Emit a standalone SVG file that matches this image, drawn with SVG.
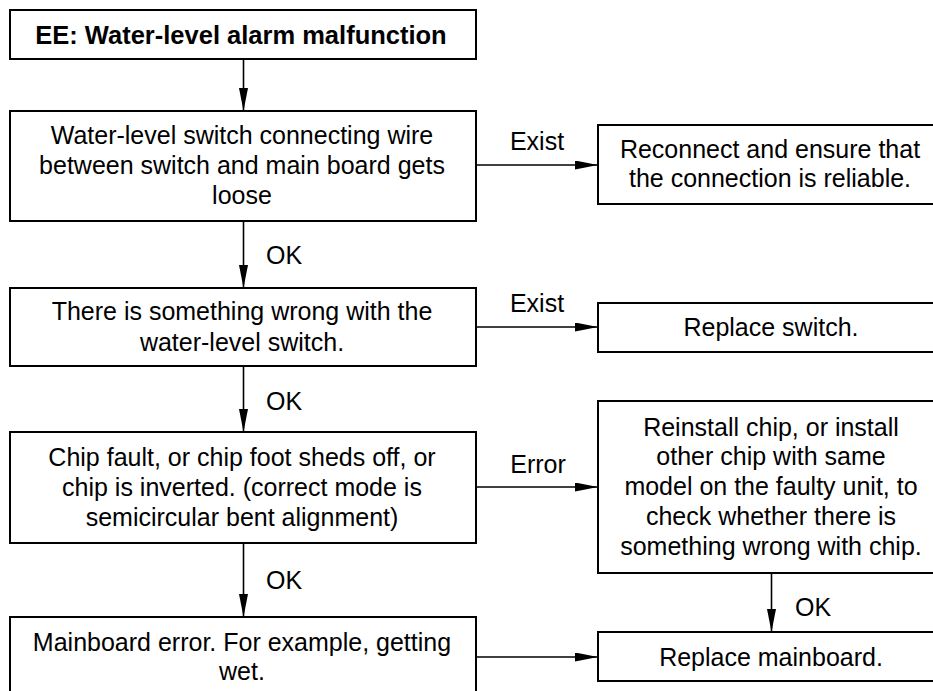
<svg xmlns="http://www.w3.org/2000/svg" width="933" height="691" viewBox="0 0 933 691">
<defs>
<marker id="ah" markerUnits="userSpaceOnUse" markerWidth="24" markerHeight="10" refX="23" refY="4.5" orient="auto">
<path d="M0,0 L23,4.5 L0,9 z" fill="#000"/>
</marker>
<style>
.box{fill:#fff;stroke:#000;stroke-width:2}
.t{font-family:"Liberation Sans",Arial,sans-serif;font-size:25px;fill:#000;text-anchor:middle}
.tb{font-weight:bold;font-size:25.5px}
.lbl{font-family:"Liberation Sans",Arial,sans-serif;font-size:25px;fill:#000}
.c{stroke:#000;stroke-width:1.6;fill:none;marker-end:url(#ah)}
</style>
</defs>
<rect width="933" height="691" fill="#fff"/>
<g id="connectors">
<line class="c" x1="243.5" y1="59" x2="243.5" y2="111"/>
<line class="c" x1="243.5" y1="221" x2="243.5" y2="288"/>
<line class="c" x1="243.5" y1="366" x2="243.5" y2="432"/>
<line class="c" x1="243.5" y1="543" x2="243.5" y2="617"/>
<line class="c" x1="476" y1="165" x2="598" y2="165"/>
<line class="c" x1="476" y1="327" x2="598" y2="327"/>
<line class="c" x1="476" y1="487" x2="598" y2="487"/>
<line class="c" x1="476" y1="657" x2="598" y2="657"/>
<line class="c" x1="771.5" y1="573" x2="771.5" y2="632"/>
<text class="lbl" x="266" y="264">OK</text>
<text class="lbl" x="266" y="410">OK</text>
<text class="lbl" x="266" y="589">OK</text>
<text class="lbl" x="795" y="616">OK</text>
<text class="t" x="537" y="150">Exist</text>
<text class="t" x="537" y="312">Exist</text>
<text class="t" x="538" y="473">Error</text>
</g>
<g id="n-title">
<rect class="box" x="10" y="10" width="466" height="49"/>
<text class="t tb" x="241" y="44">EE: Water-level alarm malfunction</text>
</g>
<g id="n-wire">
<rect class="box" x="10" y="111" width="466" height="110"/>
<text class="t" x="242" y="144">Water-level switch connecting wire</text>
<text class="t" x="242" y="174">between switch and main board gets</text>
<text class="t" x="242" y="204">loose</text>
</g>
<g id="n-switch">
<rect class="box" x="10" y="288" width="466" height="78"/>
<text class="t" x="242" y="320">There is something wrong with the</text>
<text class="t" x="242" y="351">water-level switch.</text>
</g>
<g id="n-chip">
<rect class="box" x="10" y="432" width="466" height="111"/>
<text class="t" x="242" y="466">Chip fault, or chip foot sheds off, or</text>
<text class="t" x="242" y="496">chip is inverted. (correct mode is</text>
<text class="t" x="242" y="526">semicircular bent alignment)</text>
</g>
<g id="n-mainboard">
<rect class="box" x="10" y="617" width="466" height="85"/>
<text class="t" x="242" y="651">Mainboard error. For example, getting</text>
<text class="t" x="242" y="680">wet.</text>
</g>
<g id="n-reconnect">
<rect class="box" x="598" y="125" width="346" height="79"/>
<text class="t" x="770" y="158">Reconnect and ensure that</text>
<text class="t" x="770" y="187">the connection is reliable.</text>
</g>
<g id="n-replace-switch">
<rect class="box" x="598" y="303" width="346" height="49"/>
<text class="t" x="771" y="336">Replace switch.</text>
</g>
<g id="n-reinstall">
<rect class="box" x="598" y="401" width="346" height="172"/>
<text class="t" x="771" y="436">Reinstall chip, or install</text>
<text class="t" x="771" y="465">other chip with same</text>
<text class="t" x="771" y="495">model on the faulty unit, to</text>
<text class="t" x="771" y="525">check whether there is</text>
<text class="t" x="771" y="555">something wrong with chip.</text>
</g>
<g id="n-replace-mainboard">
<rect class="box" x="598" y="632" width="346" height="49"/>
<text class="t" x="771" y="666">Replace mainboard.</text>
</g>
</svg>
